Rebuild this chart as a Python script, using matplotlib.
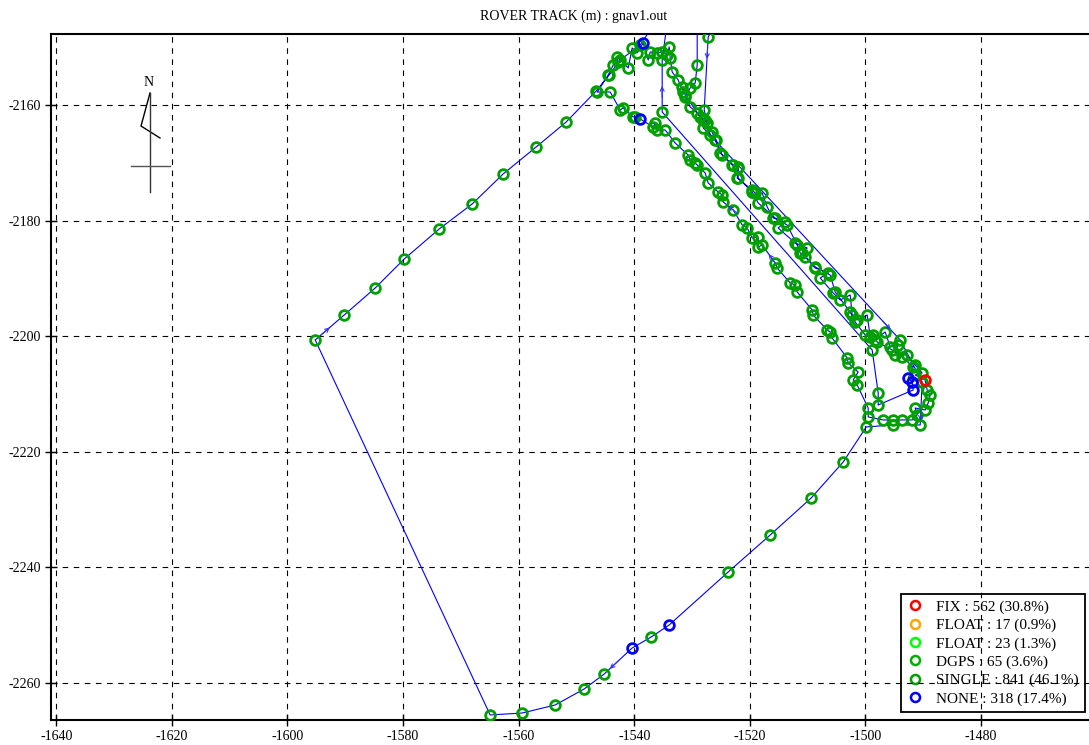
import numpy as np
import matplotlib
matplotlib.use('Agg')
import matplotlib.pyplot as plt
from matplotlib.lines import Line2D

plt.rcParams['font.family'] = ['Liberation Serif', 'DejaVu Serif']
plt.rcParams['axes.unicode_minus'] = False

# rover position, east / north (m)
east = [
    -1529.10, -1529.10, -1529.45, -1530.31, -1531.18, -1530.31, -1529.10, -1528.07, -1527.37, -1526.51,
    -1525.99, -1525.12, -1522.87, -1522.01, -1522.18, -1519.59, -1519.07, -1517.86, -1516.99, -1515.95,
    -1513.88, -1515.09, -1512.15, -1510.07, -1510.94, -1508.69, -1506.44, -1507.82, -1505.57, -1504.36,
    -1502.63, -1502.29, -1501.42, -1499.69, -1499.17, -1498.31, -1496.58, -1495.71, -1494.33, -1494.85,
    -1492.77, -1491.39, -1490.18, -1491.39, -1489.66, -1489.31, -1488.79, -1489.14, -1489.66, -1491.39,
    -1491.04, -1491.90, -1493.63, -1495.19, -1496.92, -1499.52, -1499.52, -1501.42, -1502.11, -1501.25,
    -1502.98, -1503.15, -1505.75, -1506.09, -1506.61, -1509.03, -1509.21, -1511.80, -1512.15, -1513.01,
    -1515.26, -1515.61, -1517.86, -1518.55, -1518.55, -1519.59, -1520.45, -1521.32, -1522.87, -1524.60,
    -1524.78, -1525.47, -1527.20, -1527.72, -1529.10, -1529.45, -1530.31, -1530.66, -1532.91, -1534.64,
    -1536.02, -1536.37, -1536.71, -1538.96, -1539.83, -1540.17, -1541.91, -1542.42, -1544.15, -1546.40,
    -1544.50, -1543.63, -1542.77, -1542.94, -1541.04, -1540.35, -1539.48, -1538.44, -1537.58, -1537.23,
    -1536.02, -1535.16, -1534.29, -1533.95, -1533.77, -1533.43, -1532.39, -1531.52,
    -1531.70, -1531.18, -1528.58, -1527.72, -1528.07, -1525.81, -1524.78, -1523.05, -1522.01, -1522.01,
    -1519.59, -1518.55, -1515.61, -1513.53, -1511.80, -1511.28, -1510.42, -1508.69, -1506.09, -1505.23,
    -1502.63, -1501.77, -1500.04, -1498.65, -1497.96, -1495.37, -1493.63, -1491.73, -1492.60, -1491.90,
    -1491.73, -1497.79, -1497.79, -1498.83, -1535.16, -1535.16, -1534.12,
    -1525.12, -1527.20, -1527.89, -1526.85, -1493.98, -1490.18, -1490.52, -1495.19,
    -1499.86, -1503.84, -1509.38, -1516.47, -1523.74, -1533.95, -1537.06, -1540.35, -1545.19, -1548.65,
    -1553.67, -1559.38, -1564.92, -1595.19, -1590.17, -1584.81, -1579.79, -1573.74, -1568.03, -1562.67,
    -1556.96, -1551.77, -1546.58, -1544.33, -1542.42, -1538.96, -1535.50,
]
north = [
    -2143.56, -2153.08, -2156.19, -2157.05, -2158.61, -2160.34, -2161.38, -2162.59, -2163.11, -2164.67,
    -2166.05, -2168.30, -2170.38, -2170.90, -2172.63, -2174.70, -2175.22, -2175.22, -2177.64, -2179.55,
    -2180.24, -2181.28, -2183.87, -2184.74, -2185.60, -2188.20, -2189.06, -2189.93, -2192.52, -2193.73,
    -2192.87, -2196.33, -2197.19, -2196.33, -2200.13, -2200.65, -2199.27, -2201.86, -2201.52, -2203.25,
    -2203.25, -2204.98, -2206.36, -2206.71, -2207.57, -2209.30, -2210.17, -2211.55, -2212.76, -2212.42,
    -2213.63, -2214.49, -2214.49, -2214.49, -2214.49, -2213.97, -2212.42, -2208.44, -2207.57, -2206.19,
    -2204.63, -2203.77, -2200.31, -2199.27, -2198.92, -2196.33, -2195.46, -2192.35, -2191.14, -2190.79,
    -2188.20, -2187.33, -2184.22, -2184.56, -2182.83, -2183.01, -2181.28, -2180.76, -2178.16, -2176.78,
    -2175.57, -2175.05, -2173.49, -2171.76, -2170.38, -2170.03, -2169.51, -2168.65, -2166.57, -2164.32,
    -2164.32, -2163.11, -2163.80, -2162.42, -2162.07, -2162.07, -2160.52, -2160.86, -2157.75, -2157.75,
    -2154.81, -2153.08, -2152.56, -2151.69, -2153.59, -2150.13, -2151.00, -2149.27, -2152.21, -2150.83,
    -2151.00, -2150.83, -2151.35, -2149.96, -2151.86, -2154.29, -2155.67, -2157.75,
    -2156.88, -2158.27, -2162.07, -2162.59, -2163.98, -2166.05, -2168.65, -2170.38, -2170.72, -2172.63,
    -2175.05, -2176.95, -2179.55, -2180.76, -2184.22, -2185.60, -2186.29, -2188.02, -2189.41, -2192.35,
    -2195.81, -2197.54, -2199.79, -2199.79, -2201.00, -2202.38, -2203.60, -2205.32, -2207.23, -2207.92,
    -2209.30, -2211.90, -2209.82, -2202.38, -2161.21, -2152.21, -2144.43,
    -2144.43, -2148.23, -2160.86, -2165.19, -2200.65, -2207.92, -2215.36, -2215.36,
    -2215.70, -2221.76, -2227.99, -2234.39, -2240.79, -2249.96, -2252.04, -2253.94, -2258.44, -2261.03,
    -2263.80, -2265.19, -2265.53, -2200.65, -2196.33, -2191.66, -2186.64, -2181.45, -2177.12, -2171.93,
    -2167.26, -2162.94, -2157.57, -2154.81, -2152.21, -2149.62, -2144.43,
]
fix_idx = [44]
none_idx = [93, 107, 146, 147, 148, 168, 170]

# direction arrows: (segment start index, fraction along segment)
arrow_segs = [(176, 0.5), (170, 0.8), (152, 0.5), (156, 0.3), (78, 0.5), (71, 0.5), (158, 0.95), (160, 0.9)]

q_names = ['FIX', 'FLOAT', 'FLOAT', 'DGPS', 'SINGLE', 'NONE']
q_counts = [562, 17, 23, 65, 841, 318]
q_pcts = [30.8, 0.9, 1.3, 3.6, 46.1, 17.4]
q_colors = ['#ff0000', '#ffa500', '#00ff00', '#00b000', '#00a000', '#0000ff']

e = np.array(east)
n = np.array(north)
single = np.ones(len(e), dtype=bool)
single[fix_idx] = False
single[none_idx] = False

fig = plt.figure(figsize=(10.89, 7.45), dpi=100)
ax = fig.add_axes([51 / 1089, 25 / 745, 1045 / 1089, 686 / 745])

ax.plot(e, n, color='#0000ff', lw=0.8, zorder=3)
mk = dict(ls='none', marker='o', mfc='none', ms=7, mew=2.0, zorder=4)
ax.plot(e[single], n[single], mec=q_colors[4], **mk)
ax.plot(e[none_idx], n[none_idx], mec=q_colors[5], **mk)
ax.plot(e[fix_idx], n[fix_idx], mec=q_colors[0], **mk)

for i, f in arrow_segs:
    p0 = np.array([e[i], n[i]])
    d = np.array([e[i + 1], n[i + 1]]) - p0
    u = d / np.hypot(*d)
    tip = p0 + f * d
    ax.annotate('', xy=tip, xytext=tip - 2.0 * u,
                arrowprops=dict(arrowstyle='->', color='#3030ff', lw=0.8,
                                mutation_scale=7, shrinkA=0, shrinkB=0), zorder=5)

scale = 5.78  # px per metre
ax.set_xlim(-1640.9, -1640.9 + 1045 / scale)
ax.set_ylim(-2266.4, -2266.4 + 686 / scale)
ax.set_xticks(np.arange(-1640, -1479, 20))
ax.set_yticks(np.arange(-2260, -2159, 20))
ax.set_axisbelow(False)
ax.grid(True, color='black', linestyle=(0, (5, 5)), linewidth=0.8)
ax.tick_params(direction='inout', length=8, width=1, labelsize=10, colors='black')
for s in ['left', 'bottom', 'top']:
    ax.spines[s].set_linewidth(1.5)
ax.spines['right'].set_visible(False)
ax.set_title('ROVER TRACK (m) : gnav1.out', fontsize=10, pad=10)

handles = [Line2D([], [], ls='none', marker='o', mfc='none', mec=c, ms=6.5, mew=1.8) for c in q_colors]
labels = [f'{nm} : {c} ({p:.1f}%)' for nm, c, p in zip(q_names, q_counts, q_pcts)]
leg = ax.legend(handles, labels, loc='lower right', bbox_to_anchor=(0.9895, 0.0117),
                borderaxespad=0, fontsize=11, fancybox=False, framealpha=1, edgecolor='black',
                handlelength=1.0, handletextpad=0.9, labelspacing=0.3, borderpad=0.4)
leg.get_frame().set_linewidth(1.3)
leg.set_zorder(2.4)

# north arrow
ov = fig.add_axes([0, 0, 1, 1])
ov.set_xlim(0, 1089)
ov.set_ylim(745, 0)
ov.axis('off')
ov.text(149, 82, 'N', ha='center', va='center', fontsize=10)
ov.plot([150, 141, 160], [93, 126, 138], color='black', lw=1)
ov.plot([150, 150], [93, 192], color='#333333', lw=1)
ov.plot([131, 170], [166, 166], color='#555555', lw=1)

fig.savefig('out.png', dpi=100)
